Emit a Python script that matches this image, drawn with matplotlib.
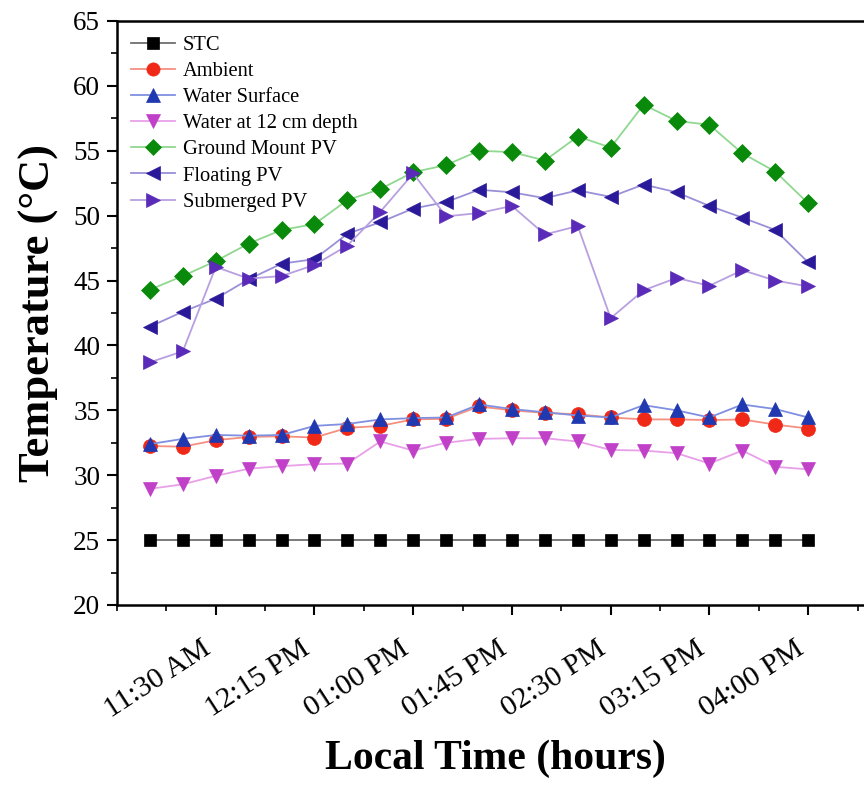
import matplotlib
matplotlib.use("Agg")
import matplotlib.pyplot as plt
import numpy as np
from matplotlib.ticker import MultipleLocator, FixedLocator

# ---- data ----
times = ["11:00", "11:15", "11:30", "11:45", "12:00", "12:15", "12:30", "12:45",
         "13:00", "13:15", "13:30", "13:45", "14:00", "14:15", "14:30", "14:45",
         "15:00", "15:15", "15:30", "15:45", "16:00"]

stc = [25.0] * 21
ambient = [32.25, 32.2, 32.7, 32.95, 33.0, 32.9, 33.65, 33.8, 34.3, 34.35, 35.3,
           35.0, 34.8, 34.7, 34.45, 34.3, 34.3, 34.25, 34.3, 33.9, 33.6]
water_surface = [32.4, 32.8, 33.1, 33.05, 33.1, 33.8, 33.95, 34.3, 34.4, 34.45, 35.45,
                 35.1, 34.85, 34.6, 34.45, 35.4, 35.0, 34.45, 35.45, 35.1, 34.45]
water_12cm = [28.95, 29.3, 29.95, 30.5, 30.7, 30.85, 30.9, 32.6, 31.9, 32.5, 32.8,
              32.85, 32.85, 32.6, 31.95, 31.9, 31.7, 30.9, 31.9, 30.65, 30.45]
ground_pv = [44.3, 45.35, 46.5, 47.85, 48.9, 49.35, 51.2, 52.05, 53.35, 53.9, 55.0,
             54.9, 54.25, 56.1, 55.25, 58.55, 57.3, 57.0, 54.8, 53.4, 50.95]
floating_pv = [41.45, 42.6, 43.6, 45.1, 46.3, 46.65, 48.6, 49.5, 50.55, 51.05, 52.0,
               51.8, 51.35, 51.95, 51.45, 52.4, 51.8, 50.75, 49.85, 48.9, 46.4]
submerged_pv = [38.7, 39.55, 46.05, 45.15, 45.35, 46.2, 47.7, 50.3, 53.25, 49.95, 50.2,
                50.75, 48.55, 49.2, 42.1, 44.25, 45.2, 44.6, 45.8, 45.0, 44.55]

tick_times = ["11:30", "12:15", "13:00", "13:45", "14:30", "15:15", "16:00"]
tick_labels = ["11:30 AM", "12:15 PM", "01:00 PM", "01:45 PM", "02:30 PM",
               "03:15 PM", "04:00 PM"]

labels = ["STC", "Ambient", "Water Surface", "Water at 12 cm depth",
          "Ground Mount PV", "Floating PV", "Submerged PV"]
series = [stc, ambient, water_surface, water_12cm, ground_pv, floating_pv, submerged_pv]


def to_min(t):
    h, m = t.split(":")
    return int(h) * 60 + int(m)


x = [to_min(t) for t in times]
xt = [to_min(t) for t in tick_times]

# ---- style ----
plt.rcParams['font.family'] = ['Liberation Serif', 'DejaVu Serif']
marker_colors = ["#000000", "#f02818", "#2038b0", "#c040c8", "#0a8a0a", "#2a1a9a", "#5a2ab8"]
line_colors = ["#707070", "#f59080", "#8090e0", "#e8a0e8", "#90d890", "#9a90d8", "#b8a0e0"]
markers = ["s", "o", "^", "v", "D", "<", ">"]
msizes = [9, 10, 10.5, 10.5, 9, 10.5, 10.5]

fig = plt.figure(figsize=(8.64, 7.87), dpi=100)
ax = fig.add_axes([117 / 864, (787 - 605) / 787, (874 - 117) / 864, (605 - 21) / 787])

for s, lab, mc, lc, mk, ms in zip(series, labels, marker_colors, line_colors, markers, msizes):
    ax.plot(x, s, color=lc, lw=1.3, marker=mk, markersize=ms,
            markerfacecolor=mc, markeredgecolor=mc, markeredgewidth=0.5, label=lab)

xmin, xmax = to_min("10:45"), to_min("16:30")
ax.set_xlim(xmin, xmax)
ax.set_ylim(20, 65)
ax.set_xticks(xt)
ax.set_xticklabels(tick_labels, rotation=33, ha="right", va="top", fontsize=21.5)
ax.xaxis.set_minor_locator(FixedLocator(np.arange(xmin, xmax + 1, 22.5)))
ax.yaxis.set_major_locator(MultipleLocator(5))
ax.yaxis.set_minor_locator(MultipleLocator(2.5))
ax.tick_params(axis="y", labelsize=19.5, pad=5)
ax.tick_params(axis="x", pad=15)
ax.tick_params(which="major", direction="out", length=7, width=1.5)
ax.tick_params(which="minor", direction="out", length=4, width=1.2)
for sp in ax.spines.values():
    sp.set_linewidth(1.8)

ax.set_ylabel("Temperature (°C)", fontsize=32, fontweight="bold", labelpad=10)
ax.set_xlabel("Local Time (hours)", fontsize=30, fontweight="bold", labelpad=12)

leg = ax.legend(loc="upper left", frameon=False, fontsize=14.8, handlelength=2.1,
                handletextpad=0.4, labelspacing=0.33, borderaxespad=0.3,
                bbox_to_anchor=(0.0, 1.0), markerscale=0.95)

fig.savefig("out.png", dpi=100)
